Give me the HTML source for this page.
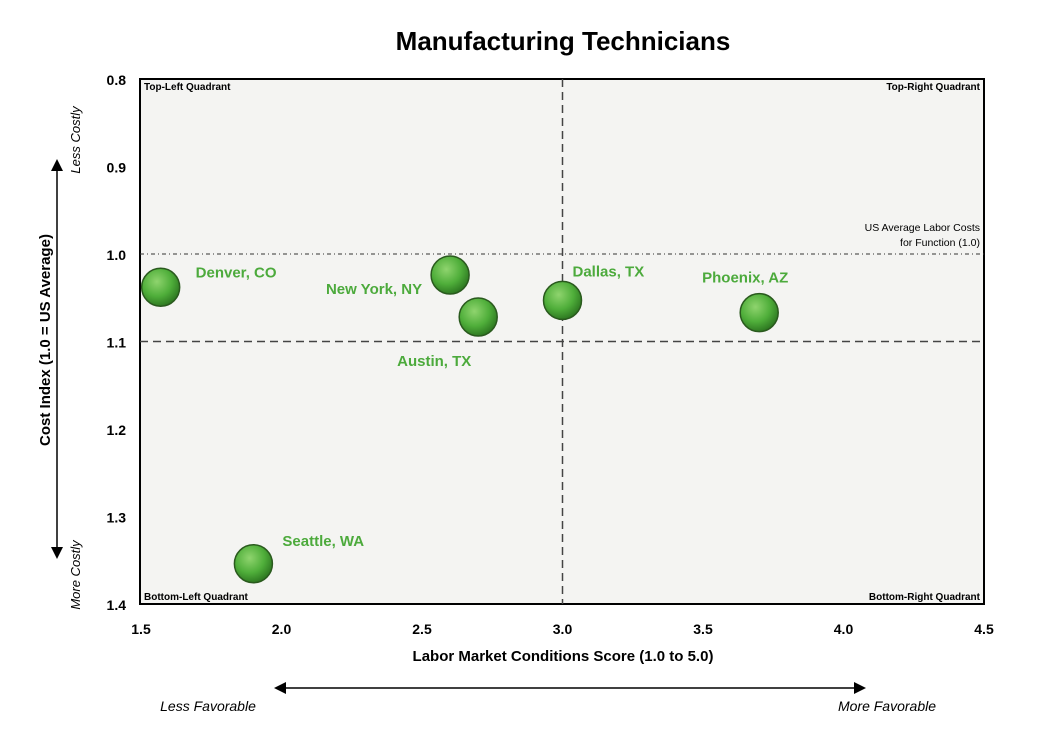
<!DOCTYPE html>
<html><head><meta charset="utf-8"><style>
body{margin:0;background:#fff;width:1043px;height:742px;overflow:hidden}
svg{font-family:"Liberation Sans",sans-serif}
</style></head><body>
<svg id="chart" width="1043" height="742" viewBox="0 0 1043 742">
<defs>
<radialGradient id="bub" cx="40%" cy="35%" r="65%">
<stop offset="0" stop-color="#8fd46e"/><stop offset="0.6" stop-color="#4fae3a"/><stop offset="1" stop-color="#2f7a22"/>
</radialGradient>
<marker id="ah" markerWidth="8" markerHeight="8" refX="4" refY="4" orient="auto-start-reverse"><path d="M0,0 L8,4 L0,8 z" fill="#000"/></marker>
</defs>
<text x="563" y="50" font-size="26" font-weight="bold" text-anchor="middle">Manufacturing Technicians</text>
<rect x="140" y="79" width="844" height="525" fill="#f4f4f2" stroke="#000" stroke-width="2"/>
<g id="grid"></g>
<g id="ticks"></g>
<g id="points"></g>
<text x="144" y="90" font-size="10" font-weight="bold">Top-Left Quadrant</text>
<text x="980" y="90" font-size="10" font-weight="bold" text-anchor="end">Top-Right Quadrant</text>
<text x="144" y="600" font-size="10" font-weight="bold">Bottom-Left Quadrant</text>
<text x="980" y="600" font-size="10" font-weight="bold" text-anchor="end">Bottom-Right Quadrant</text>
<text x="980" y="231" font-size="10.5" text-anchor="end">US Average Labor Costs</text>
<text x="980" y="246" font-size="10.5" text-anchor="end">for Function (1.0)</text>
<text x="563" y="661" font-size="15" font-weight="bold" text-anchor="middle">Labor Market Conditions Score (1.0 to 5.0)</text>
<text transform="translate(50,340) rotate(-90)" font-size="15" font-weight="bold" text-anchor="middle">Cost Index (1.0 = US Average)</text>
<line x1="57" y1="165" x2="57" y2="553" stroke="#000" stroke-width="1.5" marker-start="url(#ah)" marker-end="url(#ah)"/>
<text transform="translate(80,140) rotate(-90)" font-size="13" font-style="italic" text-anchor="middle">Less Costly</text>
<text transform="translate(80,575) rotate(-90)" font-size="13" font-style="italic" text-anchor="middle">More Costly</text>
<line x1="280" y1="688" x2="860" y2="688" stroke="#000" stroke-width="1.5" marker-start="url(#ah)" marker-end="url(#ah)"/>
<text x="208" y="711" font-size="14" font-style="italic" text-anchor="middle">Less Favorable</text>
<text x="887" y="711" font-size="14" font-style="italic" text-anchor="middle">More Favorable</text>
</svg>
<script>
const cities=["Denver, CO","New York, NY","Austin, TX","Dallas, TX","Phoenix, AZ","Seattle, WA"];
const laborScore=[1.57,2.6,2.7,3.0,3.7,1.9];
const costIndex=[1.038,1.024,1.072,1.053,1.067,1.354];
const xTicks=["1.5","2.0","2.5","3.0","3.5","4.0","4.5"];
const yTicks=["0.8","0.9","1.0","1.1","1.2","1.3","1.4"];
const labelDx=[35,-28,-44,10,-14,29];
const labelDy=[-10,19,49,-24,-30,-18];
const labelAnchor=["start","end","middle","start","middle","start"];
const NS="http://www.w3.org/2000/svg";
const X0=1.5,X1=4.5,PX0=141,PX1=984,Y0=0.8,Y1=1.4,PY0=79,PY1=604;
const xs=v=>PX0+(v-X0)/(X1-X0)*(PX1-PX0);
const ys=v=>PY0+(v-Y0)/(Y1-Y0)*(PY1-PY0);
function mk(t,a,p){const e=document.createElementNS(NS,t);for(const k in a)e.setAttribute(k,a[k]);p.appendChild(e);return e;}
const grid=document.getElementById('grid'),ticks=document.getElementById('ticks'),pts=document.getElementById('points');
let l=mk('line',{x1:140,x2:984,y1:ys(1.0),y2:ys(1.0),stroke:'#333','stroke-dasharray':'4 3 1 3'},grid);


l=mk('line',{x1:140,x2:984,y1:ys(1.1),y2:ys(1.1),stroke:'#444','stroke-width':1.5,'stroke-dasharray':'8 5'},grid);


l=mk('line',{x1:xs(3.0),x2:xs(3.0),y1:79,y2:604,stroke:'#444','stroke-width':1.5,'stroke-dasharray':'8 5'},grid);


xTicks.forEach(t=>{const e=mk('text',{x:xs(+t),y:634,'font-size':14,'font-weight':'bold','text-anchor':'middle'},ticks);e.textContent=t;

});
yTicks.forEach(t=>{const e=mk('text',{x:126,y:ys(+t)+6,'font-size':14,'font-weight':'bold','text-anchor':'end'},ticks);e.textContent=t;

});
cities.forEach((c,i)=>{const cx=xs(laborScore[i]),cy=ys(costIndex[i]);
const b=mk('circle',{cx:cx,cy:cy,r:19,fill:'url(#bub)',stroke:'#2a5a1e','stroke-width':1.5},pts);


const t=mk('text',{x:cx+labelDx[i],y:cy+labelDy[i],'font-size':15,'font-weight':'bold',fill:'#4caa3c','text-anchor':labelAnchor[i]},pts);t.textContent=c;

});
</script>
</body></html>
